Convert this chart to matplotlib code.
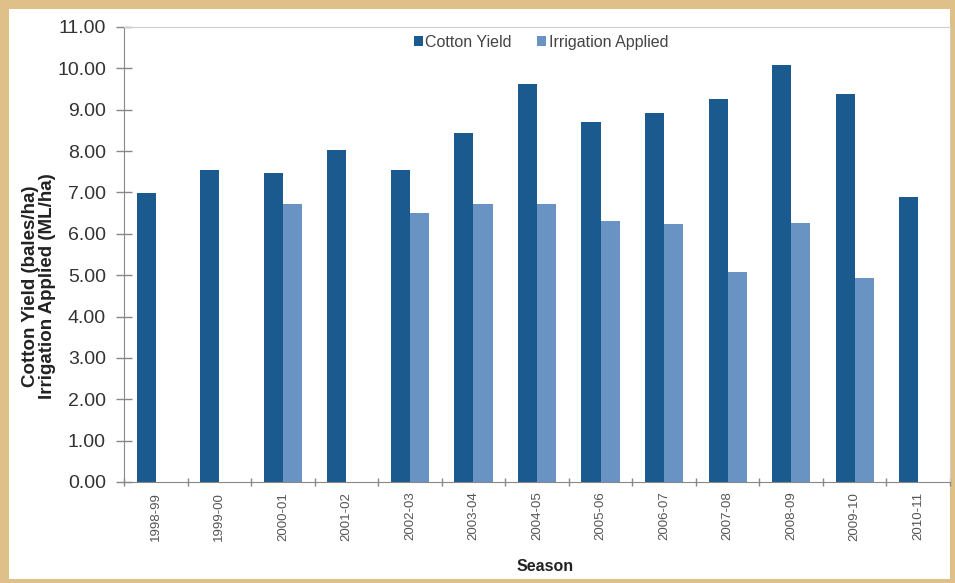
import numpy as np
import matplotlib
matplotlib.use('Agg')
import matplotlib.pyplot as plt
from matplotlib.patches import Rectangle

# data
seasons = ['1998-99', '1999-00', '2000-01', '2001-02', '2002-03', '2003-04', '2004-05',
           '2005-06', '2006-07', '2007-08', '2008-09', '2009-10', '2010-11']
cotton_yield = [6.98, 7.54, 7.46, 8.03, 7.54, 8.43, 9.63, 8.71, 8.93, 9.27, 10.07, 9.39, 6.89]
irrigation = [np.nan, np.nan, 6.73, np.nan, 6.51, 6.73, 6.73, 6.32, 6.24, 5.07, 6.25, 4.94, np.nan]
yticks = np.arange(0, 11.01, 1.0)

plt.rcParams['font.family'] = ['Liberation Sans', 'DejaVu Sans']

W, H = 955, 583
fig = plt.figure(figsize=(W / 100, H / 100), dpi=100)
fig.patch.set_facecolor('#DFC089')
# white chart area inside the tan frame
fig.patches.append(Rectangle((9 / W, 4 / H), 941 / W, 570 / H, transform=fig.transFigure,
                             facecolor='white', edgecolor='none', zorder=-5))

ax = fig.add_axes([124 / W, 1 - 482 / H, 826 / W, 455 / H])
ax.set_facecolor('white')

x = np.arange(len(seasons))
w = 0.3
ax.bar(x - w / 2, cotton_yield, w, color='#1B5A8E', label='Cotton Yield')
ax.bar(x + w / 2, irrigation, w, color='#6893C2', label='Irrigation Applied')

ax.set_xlim(-0.5, len(seasons) - 0.5)
ax.set_ylim(0, 11)
ax.set_yticks(yticks)
ax.set_yticklabels(['%.2f' % v for v in yticks], fontsize=14, color='#333333')
ax.tick_params(axis='y', direction='inout', length=12, width=1, color='#888888', pad=7)

ax.set_xticks(x)
ax.set_xticklabels(seasons, rotation=90, fontsize=9.5, color='#555555')
ax.tick_params(axis='x', length=0, pad=7)
ax.set_xticks(np.arange(-0.5, len(seasons), 1), minor=True)
ax.tick_params(axis='x', which='minor', direction='inout', length=6, width=1, color='#888888')

for s in ['left', 'bottom']:
    ax.spines[s].set_color('#888888')
for s in ['top', 'right']:
    ax.spines[s].set_color('#cfcfcf')

ax.set_ylabel('Cotton Yield (bales/ha)\nIrrigation Applied (ML/ha)', fontsize=13.5,
              fontweight='bold', color='#222222', linespacing=1.0)
ax.yaxis.set_label_coords(-0.082, 0.43)
ax.set_xlabel('Season', fontsize=11.5, fontweight='bold', color='#222222')
ax.xaxis.set_label_coords(0.51, -0.17)

ax.legend(loc='center', bbox_to_anchor=(0.505, 0.967), ncol=2, frameon=False,
          fontsize=11.5, handlelength=0.55, handleheight=0.55, handletextpad=0.15,
          columnspacing=1.6, labelcolor='#444444')

fig.savefig('out.png', dpi=100, facecolor=fig.get_facecolor())
